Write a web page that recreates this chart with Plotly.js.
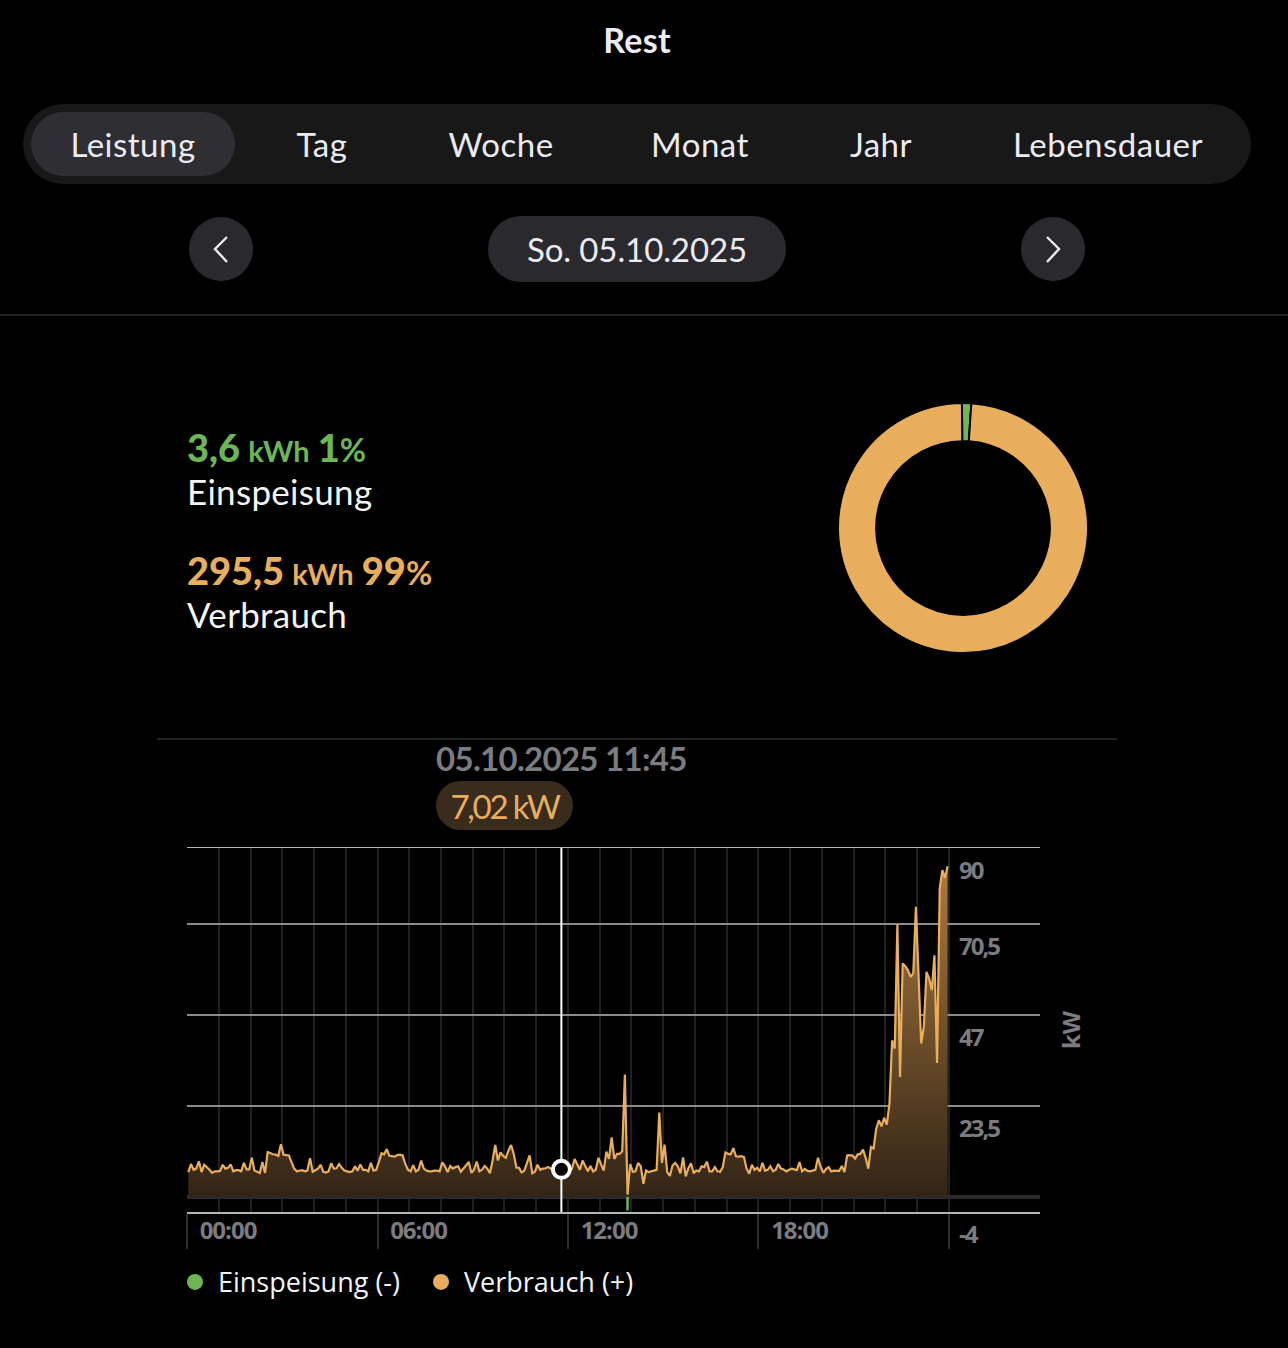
<!DOCTYPE html>
<html>
<head>
<meta charset="utf-8">
<script src="https://cdn.plot.ly/plotly-3.0.1.min.js"></script>
<style>
  html, body { margin: 0; padding: 0; background: #000; width: 1288px; height: 1348px; overflow: hidden; }
  body { position: relative; font-family: Lato, sans-serif; color: #ecebf2; }
  .abs { position: absolute; white-space: nowrap; }
  .center { transform: translateX(-50%); }
  #chart, #donut { position: absolute; }
  #chart { left: 0; top: 840px; width: 1288px; height: 490px; }
  #donut { left: 833px; top: 398px; width: 260px; height: 260px; }
  #chart .ytick text { letter-spacing: -2px; }
  #chart .xtick text { letter-spacing: -1px; }
  .bar { left: 23px; top: 104px; width: 1228px; height: 80px; background: #181818; border-radius: 40px; }
  .active { left: 31px; top: 112px; width: 204px; height: 64px; background: #2e2e33; border-radius: 32px; }
  .tab { top: 122px; font-size: 33px; line-height: 44px; letter-spacing: .5px; }
  .round { top: 217px; width: 64px; height: 64px; border-radius: 50%; background: #2a2a2e; }
  .round svg { position: absolute; left: 0; top: 0; }
  .datepill { left: 488px; top: 216px; width: 298px; height: 66px; border-radius: 33px; background: #2a2a2e; text-align: center; font-size: 33px; line-height: 66px; letter-spacing: -.1px; }
  .hr { height: 2px; background: #222; }
  .stat { line-height: 46px; word-spacing: 4px; }
  .big { font-weight: 900; font-size: 38px; }
  .small { font-weight: 700; font-size: 29px; }
  .pct { font-weight: 700; font-size: 32px; }
  .label { font-size: 35px; line-height: 44px; color: #f4f4f6; letter-spacing: .3px; }
</style>
</head>
<body>
<div class="abs center" style="left:637px;top:19px;font-size:34px;font-weight:700;line-height:42px;letter-spacing:.3px">Rest</div>

<div class="abs bar"></div>
<div class="abs active"></div>
<div class="abs tab center" style="left:133px">Leistung</div>
<div class="abs tab center" style="left:322px">Tag</div>
<div class="abs tab center" style="left:501px">Woche</div>
<div class="abs tab center" style="left:700px">Monat</div>
<div class="abs tab center" style="left:881px">Jahr</div>
<div class="abs tab center" style="left:1108px">Lebensdauer</div>

<div class="abs round" style="left:189px"><svg width="64" height="64"><path d="M38 20 L26 32 L38 45" fill="none" stroke="#ecebf2" stroke-width="2.4"/></svg></div>
<div class="abs datepill">So. 05.10.2025</div>
<div class="abs round" style="left:1021px"><svg width="64" height="64"><path d="M26 20 L38 32 L26 45" fill="none" stroke="#ecebf2" stroke-width="2.4"/></svg></div>
<div class="abs hr" style="left:0;top:314px;width:1288px"></div>

<div class="abs stat" style="left:187px;top:424px;color:#6cb654"><span class="big">3,6</span> <span class="small">kWh</span> <span class="big">1</span><span class="pct">%</span></div>
<div class="abs label" style="left:187px;top:469px">Einspeisung</div>
<div class="abs stat" style="left:187px;top:547px;color:#e9ae5c"><span class="big">295,5</span> <span class="small">kWh</span> <span class="big">99</span><span class="pct">%</span></div>
<div class="abs label" style="left:187px;top:592px">Verbrauch</div>

<div class="abs hr" style="left:157px;top:738px;width:960px"></div>

<div class="abs" style="left:436px;top:737px;font-size:33px;font-weight:700;line-height:42px;color:#7b7b80;letter-spacing:-.7px">05.10.2025 11:45</div>
<div class="abs" style="left:436px;top:781px;width:137px;height:49px;border-radius:25px;background:#3a2c1d;text-align:center;color:#e9ae5c;font-size:33px;line-height:50px;letter-spacing:-2.2px">7,02 kW</div>

<div id="donut"></div>
<div id="chart"></div>

<script>
const sliceLabels = ['Einspeisung', 'Verbrauch']
const sliceValues = [3.6, 295.5]

// kW, one value per 5 minutes, one row per hour
const verbrauch = [
  6.3,8.4,6.9,7.2,9.1,6.3,8.2,7.6,6.9,6.1,6.5,6.5,
  6.6,8.2,7.2,7.4,8.3,6.5,6.8,6.8,6.5,8.7,7.0,7.0,
  10,6.7,6.5,6.1,8.9,6.1,11.5,11.1,10.9,10.8,10.5,13.5,
  10.8,10.7,10.6,8.9,7.2,6.5,6.6,6.8,6.5,6.7,9.9,6.4,
  6.8,7.2,8.2,6.4,6.2,6.5,8.6,7.2,7.3,8.4,7.4,6.7,
  6.5,6.3,6.5,7.8,6.7,8.3,6.9,6.9,6.5,8.7,6.7,6.9,
  8.9,11.2,10.9,12.2,10.5,10.3,10.3,10.7,10.8,10.6,8.4,6.9,
  6.5,8.1,6.5,6.9,9.3,7.2,6.7,6.5,6.5,6.7,6.7,6.5,
  8.8,7.8,6.3,7.9,7.2,7.6,7.8,6.4,7.2,8.0,8.9,6.1,
  6.9,9.0,6.5,6.9,7.9,7.2,6.0,9.3,13.3,9.3,11.4,10.5,
  10.0,11.9,13.3,11.0,7.5,7.4,6.2,6.7,8.9,10.6,6.0,6.4,
  8.2,6.9,7.2,7.3,7.6,7.2,7.1,6.7,6.6,7.02,6.6,6.9,
  6.5,7.2,9.7,8.3,6.9,9.3,8.0,6.5,7.9,6.5,6.9,10.0,
  8.3,6.7,11.6,9.7,15.3,9.7,11.0,11.0,11.7,31.5,0.5,8.4,
  6.4,6.5,8.7,7.8,3.3,6.7,6.3,6.5,6.7,6.9,21.7,8.7,
  13.4,6.3,5.3,8.0,8.7,7.8,6.0,10.1,5.2,7.3,8.6,6.0,
  6.7,6.5,7.8,7.6,9.0,6.5,6.5,7.6,6.5,6.4,7.6,11.4,
  11.0,10.9,12.5,10.4,10.3,10.4,10.2,7.2,5.9,8.2,6.9,7.4,
  6.5,8.7,6.7,6.9,7.8,6.5,6.9,8.4,7.2,7.0,6.5,6.9,
  7.2,7.0,6.8,8.9,6.5,7.1,6.6,6.5,6.8,6.9,10.0,7.6,
  6.1,7.1,7.6,6.5,6.7,6.7,6.6,7.9,6.3,10.6,10.7,10.6,
  9.8,10.9,11.0,12.1,10.0,7.2,12.8,12.4,17.5,19.7,18.1,20.3,
  18.6,24,40.3,38.2,70.3,30.9,60.2,59.5,58.4,56.7,57.6,74.8,
  55,39.5,43.8,58.0,56.3,53.3,62.3,34.5,79.6,84.3,82.3,85.3
]
// points sit in the middle of their 5 minute bin
const einspeisungTime = ['2025-10-05 13:52:30', '2025-10-05 13:52:30']
const einspeisung = [0, -3.6]

const cursorTime = '2025-10-05 11:47:30'
const cursorValue = 7.02

const yTicks = [-4, 23.5, 47, 70.5, 90]
const yTickLabels = ['-4', '23,5', '47', '70,5', '90']
const xTicks = ['2025-10-05 00:00', '2025-10-05 06:00', '2025-10-05 12:00', '2025-10-05 18:00', '2025-10-06 00:00']
const xTickLabels = ['00:00', '06:00', '12:00', '18:00', '']
const hourTicks = []
for (let h = 0; h <= 24; h++) hourTicks.push(new Date(Date.UTC(2025, 9, 5, h)).toISOString().slice(0, 16).replace('T', ' '))

const green = '#6cb654'
const orange = '#e9ae5c'
const grey = '#7b7b80'

Plotly.newPlot('donut', [{
  type: 'pie',
  labels: sliceLabels,
  values: sliceValues,
  hole: 0.695,
  sort: false,
  direction: 'clockwise',
  rotation: -0.5,
  textinfo: 'none',
  hoverinfo: 'none',
  marker: { colors: [green, orange], line: { color: '#000', width: 2 } }
}], {
  paper_bgcolor: '#000',
  showlegend: false,
  margin: { l: 5, r: 5, t: 5, b: 5 }
}, { staticPlot: true })

Plotly.newPlot('chart', [
  {
    x: einspeisungTime, y: einspeisung, mode: 'lines',
    line: { color: green, width: 2.5 }, showlegend: false, hoverinfo: 'none'
  },
  {
    x0: '2025-10-05 00:02:30', dx: 300000, y: verbrauch, mode: 'lines',
    line: { color: orange, width: 2.2, shape: 'linear' },
    fill: 'tozeroy',
    fillgradient: {
      type: 'vertical', start: 0, stop: 90,
      colorscale: [[0, 'rgb(50,36,22)'], [1, 'rgb(178,127,66)']]
    },
    showlegend: false, hoverinfo: 'none'
  },
  {
    x: [cursorTime, cursorTime], y: [-4, 90], mode: 'lines',
    line: { color: '#fff', width: 2 }, showlegend: false, hoverinfo: 'none'
  },
  {
    x: [cursorTime], y: [cursorValue], mode: 'markers',
    marker: { size: 17, color: '#000', line: { color: '#fff', width: 4 } },
    showlegend: false, hoverinfo: 'none'
  },
  // legend only
  { x: [null], y: [null], mode: 'markers', name: 'Einspeisung (-)', marker: { size: 16, color: green } },
  { x: [null], y: [null], mode: 'markers', name: 'Verbrauch (+)', marker: { size: 16, color: orange } }
], {
  paper_bgcolor: '#000',
  plot_bgcolor: '#000',
  margin: { l: 187, r: 248, t: 8, b: 118, pad: 0 },
  xaxis: {
    type: 'date',
    range: ['2025-10-05 00:00', '2025-10-06 02:52'],
    tickmode: 'array',
    tickvals: xTicks,
    ticktext: xTickLabels,
    ticks: 'outside',
    ticklen: 35,
    tickwidth: 2,
    tickcolor: '#2e2e2e',
    ticklabelshift: 41,
    ticklabelstandoff: -38,
    tickfont: { family: 'Open Sans', size: 24, weight: 700, color: grey },
    showline: true,
    mirror: true,
    linecolor: '#b4b4b4',
    linewidth: 1.5,
    showgrid: true,
    gridcolor: '#202020',
    gridwidth: 2,
    zeroline: false,
    minor: { tickmode: 'array', tickvals: hourTicks, showgrid: true, gridcolor: '#202020', gridwidth: 2, ticks: '' }
  },
  yaxis: {
    range: [-4, 90],
    side: 'right',
    anchor: 'free',
    position: 0.8933,
    tickmode: 'array',
    tickvals: yTicks,
    ticktext: yTickLabels,
    ticks: '',
    ticklabelshift: 23,
    ticklabelstandoff: 9,
    tickfont: { family: 'Open Sans', size: 24, weight: 700, color: grey },
    showgrid: true,
    gridcolor: '#8a8a8a',
    gridwidth: 2,
    zeroline: true,
    zerolinecolor: '#2a2a2a',
    zerolinewidth: 4,
    showline: false,
    title: { text: 'kW', standoff: 57, font: { family: 'Open Sans', size: 24, weight: 700, color: grey } }
  },
  legend: {
    orientation: 'h',
    x: -0.0176, xanchor: 'left',
    y: -0.126, yanchor: 'top',
    itemwidth: 36,
    entrywidth: 195,
    font: { family: 'Open Sans', size: 27, color: '#f4f4f6' },
    bgcolor: 'rgba(0,0,0,0)',
    itemclick: false
  }
}, { staticPlot: true })
</script>
</body>
</html>
